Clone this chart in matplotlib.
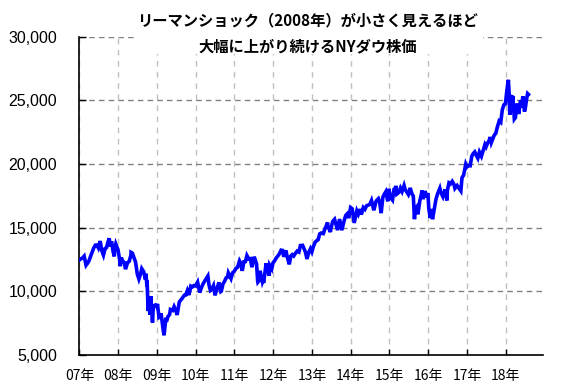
import matplotlib
matplotlib.use("Agg")
import matplotlib.pyplot as plt
from matplotlib.patches import Rectangle
import pandas as pd

plt.rcParams['font.family'] = ['Noto Sans CJK JP', 'DejaVu Sans']

title_lines = ["リーマンショック（2008年）が小さく見えるほど", "大幅に上がり続けるNYダウ株価"]

dates = [
    "2007-01-03", "2007-01-15", "2007-01-31", "2007-02-15", "2007-02-28", "2007-03-05", "2007-03-15", "2007-03-30",
    "2007-04-15", "2007-04-30", "2007-05-15", "2007-05-31", "2007-06-15", "2007-06-29", "2007-07-16", "2007-07-31",
    "2007-08-16", "2007-08-31", "2007-09-14", "2007-09-28", "2007-10-09", "2007-10-19", "2007-10-31", "2007-11-15",
    "2007-11-26", "2007-11-30", "2007-12-10", "2007-12-31",
    "2008-01-15", "2008-01-22", "2008-01-31", "2008-02-15", "2008-02-29", "2008-03-10", "2008-03-31", "2008-04-15",
    "2008-04-30", "2008-05-02", "2008-05-15", "2008-05-30", "2008-06-13", "2008-06-30", "2008-07-15", "2008-07-31",
    "2008-08-11", "2008-08-29", "2008-09-15", "2008-09-19", "2008-09-29", "2008-09-30", "2008-10-10", "2008-10-13",
    "2008-10-27", "2008-10-31", "2008-11-04", "2008-11-20", "2008-11-28", "2008-12-16", "2008-12-31",
    "2009-01-06", "2009-01-20", "2009-01-30", "2009-02-09", "2009-02-27", "2009-03-09", "2009-03-26", "2009-03-31",
    "2009-04-15", "2009-04-30", "2009-05-08", "2009-05-29", "2009-06-12", "2009-06-30", "2009-07-10", "2009-07-31",
    "2009-08-14", "2009-08-31", "2009-09-15", "2009-09-30", "2009-10-15", "2009-10-30", "2009-11-16", "2009-11-30",
    "2009-12-15", "2009-12-31",
    "2010-01-19", "2010-02-08", "2010-02-26", "2010-03-15", "2010-03-31", "2010-04-26", "2010-05-06", "2010-05-20",
    "2010-05-31", "2010-06-18", "2010-07-02", "2010-07-30", "2010-08-09", "2010-08-26", "2010-08-31", "2010-09-15",
    "2010-09-30", "2010-10-15", "2010-10-29", "2010-11-05", "2010-11-30", "2010-12-15", "2010-12-31",
    "2011-01-14", "2011-01-31", "2011-02-18", "2011-02-28", "2011-03-16", "2011-03-31", "2011-04-15", "2011-04-29",
    "2011-05-16", "2011-05-31", "2011-06-15", "2011-06-30", "2011-07-07", "2011-07-29", "2011-08-08", "2011-08-10",
    "2011-08-19", "2011-08-31", "2011-09-22", "2011-09-30", "2011-10-03", "2011-10-27", "2011-10-31", "2011-11-25",
    "2011-11-30", "2011-12-19", "2011-12-30",
    "2012-01-16", "2012-01-31", "2012-02-15", "2012-02-29", "2012-03-16", "2012-03-30", "2012-04-10", "2012-04-30",
    "2012-05-15", "2012-06-01", "2012-06-15", "2012-06-29", "2012-07-13", "2012-07-31", "2012-08-15", "2012-08-31",
    "2012-09-14", "2012-10-05", "2012-10-31", "2012-11-15", "2012-11-30", "2012-12-18", "2012-12-31",
    "2013-01-15", "2013-01-31", "2013-02-15", "2013-02-28", "2013-03-15", "2013-03-29", "2013-04-18", "2013-04-30",
    "2013-05-28", "2013-05-31", "2013-06-24", "2013-06-28", "2013-07-15", "2013-08-02", "2013-08-30", "2013-09-18",
    "2013-10-09", "2013-10-31", "2013-11-15", "2013-11-29", "2013-12-13", "2013-12-31",
    "2014-01-15", "2014-02-03", "2014-02-28", "2014-03-14", "2014-03-31", "2014-04-11", "2014-04-30", "2014-05-15",
    "2014-05-30", "2014-06-15", "2014-06-30", "2014-07-16", "2014-08-07", "2014-08-29", "2014-09-19", "2014-09-30",
    "2014-10-15", "2014-10-31", "2014-11-14", "2014-11-28", "2014-12-16", "2014-12-26", "2014-12-31",
    "2015-01-15", "2015-01-30", "2015-02-13", "2015-02-27", "2015-03-02", "2015-03-11", "2015-03-31", "2015-04-15",
    "2015-04-30", "2015-05-19", "2015-05-29", "2015-06-15", "2015-06-29", "2015-06-30", "2015-07-16", "2015-07-31",
    "2015-08-14", "2015-08-25", "2015-08-31", "2015-09-17", "2015-09-29", "2015-09-30", "2015-10-15", "2015-10-30",
    "2015-11-03", "2015-11-13", "2015-11-30", "2015-12-01", "2015-12-14", "2015-12-29", "2015-12-31",
    "2016-01-07", "2016-01-20", "2016-01-29", "2016-02-11", "2016-02-29", "2016-03-15", "2016-03-31", "2016-04-20",
    "2016-04-29", "2016-05-19", "2016-05-31", "2016-06-08", "2016-06-27", "2016-06-30", "2016-07-15", "2016-07-29",
    "2016-08-15", "2016-08-31", "2016-09-09", "2016-09-30", "2016-10-14", "2016-11-04", "2016-11-15", "2016-11-30",
    "2016-12-20", "2016-12-30",
    "2017-01-13", "2017-01-31", "2017-02-15", "2017-02-28", "2017-03-15", "2017-03-31", "2017-04-13", "2017-04-28",
    "2017-05-17", "2017-05-31", "2017-06-19", "2017-06-30", "2017-07-14", "2017-07-31", "2017-08-07", "2017-08-18",
    "2017-08-31", "2017-09-15", "2017-09-29", "2017-10-13", "2017-10-31", "2017-11-15", "2017-11-30", "2017-12-15",
    "2017-12-29",
    "2018-01-12", "2018-01-26", "2018-02-02", "2018-02-08", "2018-02-15", "2018-02-27", "2018-03-01", "2018-03-09",
    "2018-03-23", "2018-04-02", "2018-04-18", "2018-04-30", "2018-05-03", "2018-05-21", "2018-05-31", "2018-06-11",
    "2018-06-27", "2018-07-06", "2018-07-17", "2018-07-26", "2018-08-03",
]

dow = [
    12474, 12556, 12622, 12765, 12268, 12050, 12160, 12354,
    12720, 13062, 13383, 13627, 13639, 13408, 13950, 13212,
    12845, 13357, 13442, 13895, 14165, 13522, 13930, 13110,
    12743, 13371, 13727, 13264,
    12501, 11971, 12650, 12348, 12266, 11740, 12262, 12362,
    12820, 13058, 12992, 12638, 12307, 11350, 10963, 11378,
    11782, 11544, 10917, 11388, 10365, 10851, 8451, 9387,
    8176, 9325, 9625, 7552, 8829, 8924, 8776,
    9015, 7949, 8001, 8270, 7063, 6547, 7925, 7609,
    8029, 8168, 8575, 8500, 8799, 8447, 8146, 9172,
    9321, 9496, 9683, 9712, 10063, 9713, 10406, 10345,
    10452, 10428,
    10725, 9908, 10325, 10642, 10857, 11205, 10520, 10068,
    10137, 10450, 9686, 10466, 10698, 9985, 10015, 10572,
    10788, 11062, 11118, 11444, 11006, 11457, 11578,
    11787, 11892, 12391, 12226, 11613, 12320, 12341, 12811,
    12548, 12570, 11897, 12414, 12719, 12143, 10810, 10720,
    10818, 11614, 10734, 10913, 10655, 12209, 11955, 11231,
    12046, 11766, 12218,
    12422, 12633, 12781, 12952, 13233, 13212, 12716, 13214,
    12632, 12119, 12767, 12880, 12777, 13009, 13164, 13091,
    13594, 13610, 13096, 12543, 13026, 13350, 13104,
    13535, 13861, 13982, 14054, 14514, 14579, 14537, 14840,
    15409, 15116, 14659, 14910, 15484, 15658, 14810, 15676,
    14802, 15546, 15962, 16086, 15755, 16577,
    16482, 15373, 16322, 16065, 16458, 16027, 16581, 16447,
    16717, 16776, 16827, 17138, 16368, 17098, 17280, 17043,
    16142, 17391, 17634, 17828, 17068, 18053, 17823,
    17320, 17165, 18019, 18133, 18288, 17635, 17776, 18112,
    17841, 18312, 18011, 17791, 17596, 17620, 18120, 17690,
    17477, 15666, 16528, 16675, 16049, 16285, 17141, 17664,
    17918, 17245, 17720, 17888, 17368, 17720, 17425,
    16514, 15766, 16466, 15660, 16517, 17251, 17685, 18096,
    17774, 17435, 17787, 18005, 17140, 17930, 18516, 18432,
    18636, 18401, 18085, 18308, 18138, 17888, 18923, 19124,
    19974, 19763,
    19885, 19864, 20611, 20812, 20950, 20663, 20453, 20941,
    20607, 21009, 21528, 21350, 21638, 21891, 22118, 21675,
    21948, 22268, 22405, 22871, 23377, 23272, 24272, 24651,
    24719,
    25803, 26616, 25521, 23860, 25200, 25410, 24609, 25336,
    23533, 23644, 24748, 24163, 23930, 25013, 24416, 25322,
    24117, 24456, 25119, 25527, 25463,
]

year_ticks = [str(y) + "-01-01" for y in range(2007, 2019)]
year_labels = ["07年", "08年", "09年", "10年", "11年", "12年", "13年", "14年", "15年", "16年", "17年", "18年"]
y_ticks = [5000, 10000, 15000, 20000, 25000, 30000]
y_labels = ["5,000", "10,000", "15,000", "20,000", "25,000", "30,000"]

fig = plt.figure(figsize=(5.67, 3.92), dpi=100)
ax = fig.add_axes([0.14, 0.0944, 0.818, 0.812])

x = pd.to_datetime(dates)
ax.plot(x, dow, color="#0000FF", lw=2.6, solid_joinstyle="miter", zorder=3)

ax.set_ylim(5000, 30000)
ax.set_xlim(pd.Timestamp("2007-01-01"), pd.Timestamp("2018-12-20"))
ax.set_yticks(y_ticks)
ax.set_yticklabels(y_labels, family=["Liberation Sans", "DejaVu Sans"], fontsize=11.5)
xt = pd.to_datetime(year_ticks)
ax.set_xticks(xt)
ax.set_xticklabels(year_labels, fontsize=10)

ax.yaxis.grid(True, color="#808080", linestyle=(0, (4, 3)), lw=1.0)
ax.xaxis.grid(True, color="#c0c0c0", linestyle=(0, (4, 4)), lw=1.0)
ax.set_axisbelow(True)

for s in ["top", "right"]:
    ax.spines[s].set_visible(False)
for s in ["left", "bottom"]:
    ax.spines[s].set_color("black")
    ax.spines[s].set_linewidth(1.2)

ax.tick_params(axis="y", direction="in", length=5, width=1, pad=16)
ax.tick_params(axis="x", direction="in", length=4, width=1, pad=10)

rect = Rectangle((0.238, 0.862), 0.614, 0.14, transform=fig.transFigure,
                 facecolor="white", edgecolor="none", zorder=5)
fig.add_artist(rect)
fig.text(0.543, 0.949, title_lines[0], ha="center", va="center", fontsize=11,
         fontweight="bold", zorder=6)
fig.text(0.543, 0.883, title_lines[1], ha="center", va="center", fontsize=11,
         fontweight="bold", zorder=6)

fig.savefig("out.png", dpi=100)
